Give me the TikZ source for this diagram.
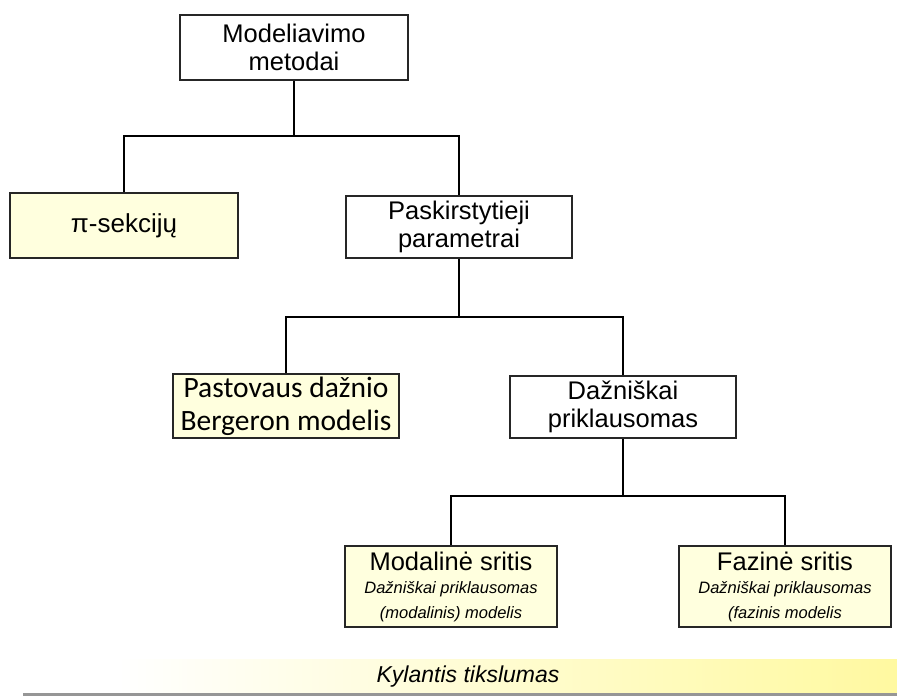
\documentclass[tikz,border=0pt]{standalone}
\usepackage{fontspec}
\setmainfont{Liberation Sans}
\newfontfamily\calibri{Carlito}
\usepackage{tikz}
\usetikzlibrary{positioning}
\definecolor{box_yellow}{RGB}{255,255,222}
\definecolor{bar_yellow}{RGB}{255,249,160}
\definecolor{rule_gray}{RGB}{150,150,150}
\newcommand{\subtxt}{\fontsize{16.5}{20}\selectfont\itshape}

\begin{document}
\begin{tikzpicture}[x=1pt, y=-1pt, line width=1.8pt,
    box/.style={draw=black!85, line width=1.8pt, align=center, inner sep=0pt,
      font=\fontsize{25.5}{28}\selectfont},
    ybox/.style={box, fill=box_yellow}]
        \useasboundingbox (0,0) rectangle (897,696);
        % medis
        \node[box, minimum width=228pt, minimum height=65pt] (metodai) at (294,47.5)
          {Modeliavimo\\metodai};
        \node[ybox, minimum width=228pt, minimum height=65pt, font=\fontsize{26}{28}\selectfont] (pisekc) at (124,225.5)
          {π-sekcijų};
        \node[box, minimum width=226pt, minimum height=62pt] (paskirst) at (459,227)
          {Paskirstytieji\\parametrai};
        \node[ybox, minimum width=226pt, minimum height=64pt, font=\calibri\fontsize{29.5}{33}\selectfont] (bergeron) at (286,406)
          {Pastovaus dažnio\\Bergeron modelis};
        \node[box, minimum width=226pt, minimum height=62pt] (priklaus) at (623,407)
          {Dažniškai\\priklausomas};
        \node[ybox, minimum width=212pt, minimum height=81pt] (modal) at (451,586.5)
          {Modalinė sritis\\[-5pt]
           \subtxt Dažniškai priklausomas\\[-3pt]\subtxt (modalinis) modelis};
        \node[ybox, minimum width=212pt, minimum height=81pt] (fazin) at (785,586.5)
          {Fazinė sritis\\[-5pt]
           \subtxt Dažniškai priklausomas\\[-3pt]\subtxt (fazinis modelis};
        % jungtys
        \coordinate (j1) at (294,136);
        \coordinate (j2) at (459,317);
        \coordinate (j3) at (623,496);
        \draw (metodai) -- (j1) -| (pisekc);
        \draw (j1) -| (paskirst);
        \draw (paskirst) -- (j2) -| (bergeron);
        \draw (j2) -| (priklaus);
        \draw (priklaus) -- (j3) -| (modal);
        \draw (j3) -| (fazin);
        % tikslumo juosta
        \shade[left color=white, right color=bar_yellow, draw=none] (117,659) rectangle (897,693);
        \node[font=\fontsize{23}{26}\selectfont\itshape] (tiksl) at (468,677) {Kylantis tikslumas};
        \draw[rule_gray, line width=2.5pt] (23,694.5) -- (897,694.5);
\end{tikzpicture}
\end{document}
